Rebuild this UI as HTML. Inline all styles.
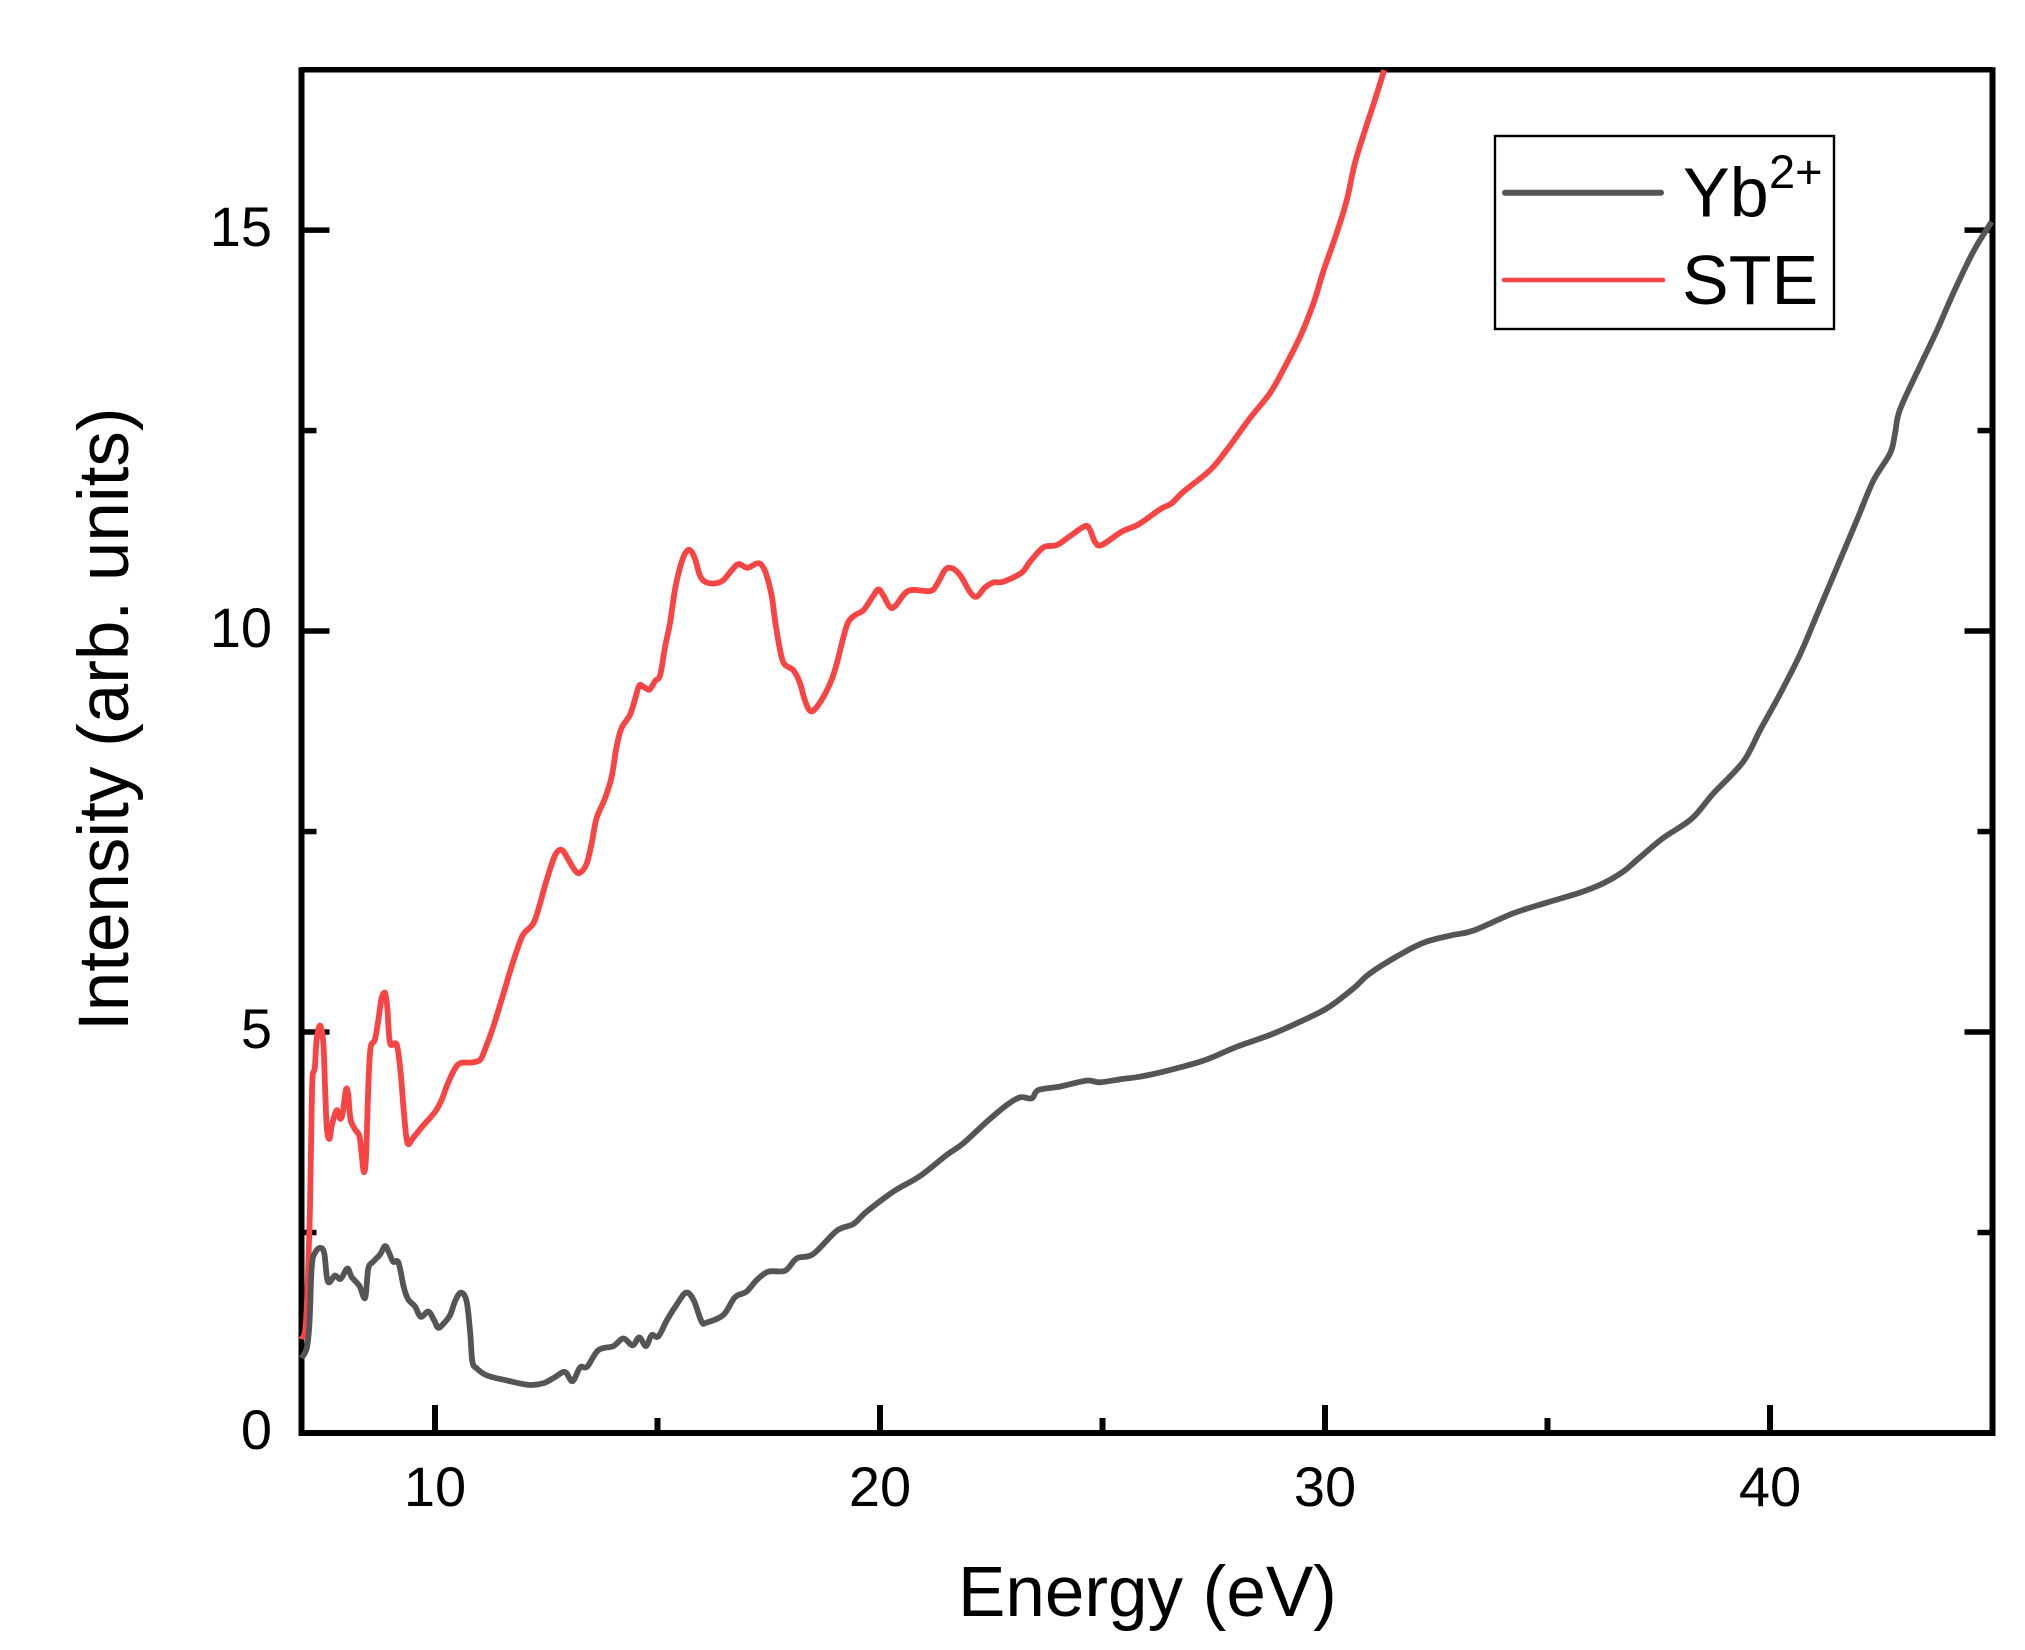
<!DOCTYPE html>
<html lang="en">
<head>
<meta charset="utf-8">
<title>Intensity vs Energy</title>
<style>
html,body{margin:0;padding:0;background:#fff;}
svg{display:block;}
text{font-family:"Liberation Sans",Arial,sans-serif;fill:#000;}
</style>
</head>
<body>
<svg id="chart" xmlns="http://www.w3.org/2000/svg" width="2025" height="1650" viewBox="0 0 2025 1650">
  <rect x="0" y="0" width="2025" height="1650" fill="#ffffff"/>
  <g id="axes"></g>
  <g id="series"></g>
  <text x="958" y="1616" font-size="71">Energy (eV)</text>
  <text transform="translate(128,1031) rotate(-90)" font-size="71">Intensity (arb. units)</text>
  <g>
    <rect x="1495" y="136" width="339" height="193" fill="#ffffff" stroke="#000" stroke-width="2.4"/>
    <line x1="1505" y1="192.7" x2="1661" y2="192.7" stroke="#555555" stroke-width="6" stroke-linecap="round"/>
    <text x="1683" y="216.5" font-size="70">Yb</text>
    <text x="1769" y="188" font-size="47">2+</text>
    <line x1="1504" y1="280" x2="1663" y2="280" stroke="#f94444" stroke-width="4.6" stroke-linecap="round"/>
    <text x="1682" y="304" font-size="70">STE</text>
  </g>
</svg>
<script>
const xMajorTicks = [10, 20, 30, 40];
const xMinorTicks = [15, 25, 35];
const yMajorTicks = [0, 5, 10, 15];
const yMinorTicks = [2.5, 7.5, 12.5];
const xTickLabels = ["10", "20", "30", "40"];
const yTickLabels = ["0", "5", "10", "15"];

const ybEnergy = [7.00,7.12,7.18,7.23,7.30,7.42,7.51,7.57,7.63,7.75,7.88,8.03,8.13,8.30,8.43,8.50,8.61,8.76,8.88,8.97,9.06,9.18,9.30,9.40,9.55,9.68,9.85,9.98,10.07,10.19,10.34,10.45,10.58,10.71,10.79,10.84,10.94,11.16,11.61,12.10,12.43,12.70,12.92,13.09,13.26,13.42,13.67,14.01,14.23,14.44,14.59,14.74,14.87,15.02,15.21,15.43,15.64,15.81,15.99,16.10,16.48,16.74,17.00,17.23,17.49,17.87,18.13,18.50,19.03,19.40,19.70,20.30,20.90,21.50,21.87,22.40,22.85,23.15,23.41,23.56,24.04,24.64,24.94,25.39,25.84,26.37,27.27,28.02,28.76,29.36,30.04,30.64,31.01,31.76,32.28,32.88,33.33,34.23,34.98,35.73,36.25,36.70,37.06,37.60,38.24,38.73,39.40,39.78,40.22,40.67,41.05,41.50,41.95,42.32,42.70,42.81,42.92,43.37,43.75,44.12,44.57,44.98];
const ybIntensity = [0.934,1.063,1.385,2.072,2.244,2.308,2.244,1.943,1.879,1.964,1.922,2.05,1.943,1.836,1.685,2.05,2.136,2.222,2.33,2.244,2.136,2.123,1.814,1.664,1.578,1.449,1.514,1.406,1.312,1.363,1.471,1.642,1.75,1.642,1.256,0.891,0.805,0.72,0.655,0.6,0.62,0.698,0.762,0.646,0.818,0.827,1.033,1.084,1.179,1.093,1.192,1.084,1.222,1.204,1.406,1.6,1.75,1.659,1.389,1.376,1.472,1.692,1.763,1.908,2.012,2.025,2.178,2.232,2.523,2.606,2.76,3.01,3.205,3.467,3.612,3.882,4.09,4.186,4.173,4.277,4.319,4.394,4.373,4.41,4.443,4.506,4.643,4.817,4.963,5.108,5.295,5.545,5.732,5.989,6.127,6.21,6.264,6.48,6.613,6.738,6.854,7.0,7.17,7.42,7.66,7.977,8.372,8.767,9.21,9.703,10.197,10.788,11.38,11.873,12.218,12.465,12.761,13.303,13.747,14.215,14.733,15.103];

const steEnergy = [7.00,7.10,7.18,7.21,7.23,7.25,7.30,7.34,7.42,7.49,7.53,7.57,7.63,7.68,7.79,7.87,7.93,8.00,8.05,8.10,8.20,8.30,8.35,8.40,8.45,8.50,8.55,8.65,8.73,8.80,8.88,8.93,8.99,9.14,9.23,9.30,9.38,9.51,9.70,10.00,10.15,10.26,10.41,10.56,10.82,11.01,11.12,11.31,11.54,11.72,11.91,12.00,12.21,12.34,12.51,12.70,12.85,13.00,13.15,13.26,13.41,13.52,13.63,13.82,13.97,14.08,14.19,14.38,14.49,14.59,14.70,14.82,14.95,15.06,15.17,15.28,15.39,15.51,15.62,15.73,15.84,15.95,16.07,16.29,16.48,16.67,16.82,17.02,17.23,17.34,17.45,17.57,17.64,17.74,17.84,18.05,18.19,18.31,18.41,18.52,18.73,18.91,19.03,19.18,19.29,19.44,19.63,19.81,19.96,20.07,20.22,20.34,20.64,21.12,21.27,21.46,21.61,21.80,22.02,22.17,22.36,22.55,22.77,23.18,23.37,23.67,23.97,24.27,24.61,24.72,24.83,24.98,25.43,25.81,26.29,26.55,26.82,27.42,27.79,28.31,28.76,29.06,29.44,29.74,29.96,30.26,30.49,30.67,30.90,31.12,31.33];
const steIntensity = [1.17,1.385,2.587,3.446,4.09,4.455,4.56,4.906,5.08,4.863,4.305,3.789,3.669,3.832,4.025,3.918,4.004,4.283,4.219,3.918,3.789,3.703,3.489,3.253,3.446,4.305,4.798,4.906,5.163,5.421,5.485,5.292,4.863,4.841,4.476,4.004,3.618,3.682,3.811,4.004,4.154,4.319,4.506,4.61,4.62,4.651,4.776,5.067,5.482,5.815,6.127,6.231,6.355,6.563,6.896,7.207,7.27,7.145,7.012,6.987,7.103,7.353,7.665,7.914,8.184,8.558,8.787,8.953,9.14,9.32,9.30,9.27,9.38,9.451,9.804,10.095,10.511,10.802,10.968,11.01,10.906,10.698,10.615,10.594,10.635,10.76,10.835,10.789,10.843,10.823,10.698,10.428,10.137,9.804,9.596,9.513,9.368,9.139,9.015,9.015,9.181,9.389,9.596,9.929,10.116,10.199,10.261,10.407,10.519,10.448,10.303,10.311,10.502,10.498,10.573,10.76,10.785,10.698,10.49,10.428,10.544,10.606,10.615,10.727,10.864,11.043,11.072,11.184,11.31,11.26,11.114,11.073,11.239,11.33,11.517,11.592,11.738,12.008,12.257,12.652,12.964,13.255,13.67,14.086,14.481,14.959,15.374,15.832,16.247,16.621,16.995];

const X_MIN = 7, X_MAX = 45, Y_MIN = 0, Y_MAX = 17;
const PLOT_LEFT = 301.5, PLOT_RIGHT = 1992.5, PLOT_TOP = 69.7, PLOT_BOTTOM = 1433;

function xScale(v) {
  return PLOT_LEFT + (v - X_MIN) / (X_MAX - X_MIN) * (PLOT_RIGHT - PLOT_LEFT);
}
function yScale(v) {
  return PLOT_BOTTOM - (v - Y_MIN) / (Y_MAX - Y_MIN) * (PLOT_BOTTOM - PLOT_TOP);
}

const NS = "http://www.w3.org/2000/svg";
const axesGroup = document.getElementById("axes");
const seriesGroup = document.getElementById("series");

function makeLine(x1, y1, x2, y2, width) {
  const el = document.createElementNS(NS, "line");
  el.setAttribute("x1", x1);
  el.setAttribute("y1", y1);
  el.setAttribute("x2", x2);
  el.setAttribute("y2", y2);
  el.setAttribute("stroke", "#000");
  el.setAttribute("stroke-width", width);
  axesGroup.appendChild(el);
  return el;
}

function makeLabel(x, y, anchor, content) {
  const el = document.createElementNS(NS, "text");
  el.setAttribute("x", x);
  el.setAttribute("y", y);
  el.setAttribute("text-anchor", anchor);
  el.setAttribute("font-size", "56");
  el.textContent = content;
  axesGroup.appendChild(el);
  return el;
}

// axis frame
const leftSpine = makeLine(PLOT_LEFT, PLOT_TOP - 2.5, PLOT_LEFT, PLOT_BOTTOM + 3, 6);


const rightSpine = makeLine(PLOT_RIGHT, PLOT_TOP - 2.5, PLOT_RIGHT, PLOT_BOTTOM + 3, 6);


const topSpine = makeLine(PLOT_LEFT, PLOT_TOP, PLOT_RIGHT, PLOT_TOP, 5.5);


const bottomSpine = makeLine(PLOT_LEFT, PLOT_BOTTOM, PLOT_RIGHT, PLOT_BOTTOM, 6);



// x ticks
xMajorTicks.forEach(function (v, i) {
  const tick = makeLine(xScale(v), PLOT_BOTTOM, xScale(v), PLOT_BOTTOM - 28, 6);
  
  
  const label = makeLabel(xScale(v), 1506, "middle", xTickLabels[i]);
  
  
});
xMinorTicks.forEach(function (v) {
  const tick = makeLine(xScale(v), PLOT_BOTTOM, xScale(v), PLOT_BOTTOM - 15, 6);
  
  
});

// y ticks, mirrored on both sides
yMajorTicks.forEach(function (v, i) {
  if (v !== Y_MIN) {
    const tickL = makeLine(PLOT_LEFT, yScale(v), PLOT_LEFT + 28, yScale(v), 5.5);
    
    
    const tickR = makeLine(PLOT_RIGHT, yScale(v), PLOT_RIGHT - 28, yScale(v), 5.5);
    
    
  }
  const label = makeLabel(272, yScale(v) + 16, "end", yTickLabels[i]);
  
  
});
yMinorTicks.forEach(function (v) {
  const tickL = makeLine(PLOT_LEFT, yScale(v), PLOT_LEFT + 15, yScale(v), 5.5);
  
  
  const tickR = makeLine(PLOT_RIGHT, yScale(v), PLOT_RIGHT - 15, yScale(v), 5.5);
  
  
});

// smooth path through the data points
function buildPath(xs, ys) {
  const px = xs.map(xScale);
  const py = ys.map(yScale);
  let d = "M" + px[0].toFixed(2) + " " + py[0].toFixed(2);
  for (let i = 0; i < px.length - 1; i++) {
    const a = Math.max(i - 1, 0);
    const b = Math.min(i + 2, px.length - 1);
    const c1x = px[i] + (px[i + 1] - px[a]) / 6;
    const c1y = py[i] + (py[i + 1] - py[a]) / 6;
    const c2x = px[i + 1] - (px[b] - px[i]) / 6;
    const c2y = py[i + 1] - (py[b] - py[i]) / 6;
    d += "C" + c1x.toFixed(2) + " " + c1y.toFixed(2) + " " + c2x.toFixed(2) + " " + c2y.toFixed(2) + " " + px[i + 1].toFixed(2) + " " + py[i + 1].toFixed(2);
  }
  return d;
}

function makeSeries(xs, ys, color, width) {
  const el = document.createElementNS(NS, "path");
  el.setAttribute("d", buildPath(xs, ys));
  el.setAttribute("fill", "none");
  el.setAttribute("stroke", color);
  el.setAttribute("stroke-width", width);
  el.setAttribute("stroke-linejoin", "round");
  el.setAttribute("stroke-linecap", "butt");
  seriesGroup.appendChild(el);
  return el;
}

const steLine = makeSeries(steEnergy, steIntensity, "#f94444", 5.8);


const ybLine = makeSeries(ybEnergy, ybIntensity, "#555555", 5.8);


</script>
</body>
</html>
